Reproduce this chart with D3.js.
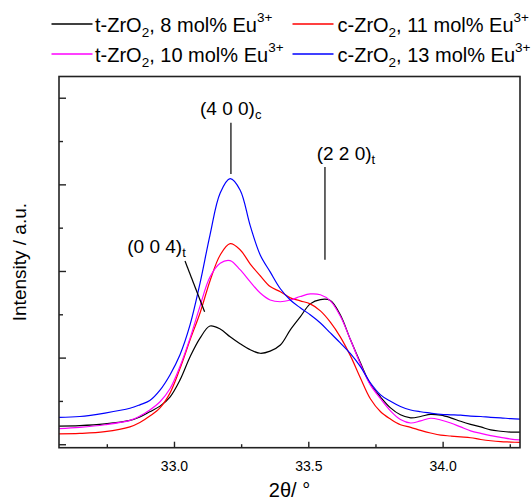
<!DOCTYPE html>
<html>
<head>
<meta charset="utf-8">
<script src="https://cdn.jsdelivr.net/npm/d3@7"></script>
<style>
  html, body { margin: 0; padding: 0; background: #fff; }
  svg { display: block; font-family: "Liberation Sans", Arial, Helvetica, sans-serif; }
</style>
</head>
<body>
<svg id="chart" width="531" height="501"></svg>
<script>
// ---- data ----
const twoTheta = [32.571,32.649,32.743,32.836,32.873,32.910,32.948,32.985,33.022,33.060,33.097,
  33.134,33.172,33.209,33.246,33.284,33.321,33.358,33.396,33.433,33.470,
  33.507,33.545,33.582,33.619,33.657,33.694,33.731,33.769,33.806,33.843,
  33.881,33.918,33.955,33.993,34.030,34.067,34.104,34.142,34.179,34.216,34.254,34.291];

const t8 = [0.42,0.43,0.47,0.55,0.63,0.75,0.88,1.09,1.48,2.02,2.45,
  2.73,2.66,2.48,2.32,2.18,2.10,2.15,2.29,2.64,2.94,
  3.24,3.34,3.32,2.99,2.41,1.88,1.39,1.09,0.84,0.68,
  0.61,0.64,0.69,0.67,0.61,0.53,0.46,0.40,0.33,0.30,0.28,0.28];

const c11 = [0.24,0.25,0.29,0.40,0.50,0.65,0.84,1.18,1.74,2.41,3.03,
  3.77,4.37,4.63,4.49,4.16,3.89,3.64,3.52,3.38,3.31,
  3.24,3.08,2.82,2.48,2.04,1.53,1.05,0.75,0.58,0.45,
  0.39,0.32,0.26,0.21,0.19,0.17,0.15,0.11,0.08,0.06,0.05,0.04];

const t10 = [0.36,0.39,0.45,0.55,0.65,0.79,0.98,1.28,1.79,2.45,3.19,
  3.86,4.18,4.24,4.03,3.75,3.49,3.33,3.29,3.33,3.41,
  3.47,3.45,3.31,2.96,2.41,1.85,1.37,1.05,0.77,0.57,
  0.49,0.54,0.60,0.56,0.49,0.40,0.31,0.25,0.20,0.16,0.12,0.10];

const c13 = [0.62,0.64,0.72,0.83,0.91,1.01,1.25,1.60,2.06,2.76,3.72,
  4.83,5.80,6.13,5.87,5.04,4.37,3.98,3.59,3.33,3.15,
  2.99,2.80,2.57,2.34,2.09,1.79,1.42,1.14,0.99,0.87,
  0.79,0.75,0.72,0.69,0.68,0.67,0.65,0.64,0.62,0.61,0.59,0.58];

const seriesNames = ["t8", "c11", "t10", "c13"];
const seriesValues = [t8, c11, t10, c13];
const seriesColors = ["#000000", "#ff0000", "#ff00ff", "#0000ff"];
const legendLabels = [
  {phase: "t-ZrO", rest: ", 8 mol% Eu"},
  {phase: "c-ZrO", rest: ", 11 mol% Eu"},
  {phase: "t-ZrO", rest: ", 10 mol% Eu"},
  {phase: "c-ZrO", rest: ", 13 mol% Eu"}
];

const xMajorTicks = [33.0, 33.5, 34.0];
const xMinorTicks = [32.75, 33.25, 33.75, 34.25];
const yMajorTicks = [0, 2, 4, 6, 8];
const yMinorTicks = [1, 3, 5, 7];

const annotations = [
  {main: "(4 0 0)", sub: "c", tx: 33.097, ty: 7.61, line: [[33.212, 7.42], [33.212, 6.24]]},
  {main: "(2 2 0)", sub: "t", tx: 33.531, ty: 6.57, line: [[33.562, 6.40], [33.562, 4.26]]},
  {main: "(0 0 4)", sub: "t", tx: 32.826, ty: 4.41, line: [[33.041, 4.23], [33.114, 3.06]]}
];

// ---- layout ----
const svg = d3.select("#chart");
const L = 59, R = 520, T = 76.5, B = 447.7;
const x = d3.scaleLinear().domain([32.572, 34.288]).range([L, R]);
const y = d3.scaleLinear().domain([-0.08, 8.49]).range([B, T]);
const FONT = 19;

svg.append("defs").append("clipPath").attr("id", "clip")
  .append("rect").attr("x", L).attr("y", T).attr("width", R - L).attr("height", B - T);

// curves
const line = d3.line().x(d => x(d[0])).y(d => y(d[1])).curve(d3.curveCatmullRom.alpha(0.5));
const plot = svg.append("g").attr("clip-path", "url(#clip)");
seriesValues.forEach((vals, i) => {
  plot.append("path")
    .datum(twoTheta.map((t, j) => [t, vals[j]]))
    .attr("fill", "none")
    .attr("stroke", seriesColors[i])
    .attr("stroke-width", 1.2)
    .attr("d", line);
});

// axes (ticks inward)
const frameColor = "#222";
const xAxisMajor = d3.axisBottom(x).tickValues(xMajorTicks).tickSize(-6).tickPadding(13).tickFormat(d3.format(".1f"));
const xAxisMinor = d3.axisBottom(x).tickValues(xMinorTicks).tickSize(-3.5).tickFormat("");
const yAxisMajor = d3.axisLeft(y).tickValues(yMajorTicks).tickSize(-7).tickFormat("");
const yAxisMinor = d3.axisLeft(y).tickValues(yMinorTicks).tickSize(-4).tickFormat("");

function styleAxis(g) {
  g.select(".domain").remove();
  g.selectAll(".tick line").attr("stroke", frameColor).attr("stroke-width", 1.4);
  g.selectAll(".tick text").attr("fill", "#000").attr("font-size", 14).attr("font-family", null);
}
svg.append("g").attr("transform", `translate(0,${B})`).call(xAxisMajor).call(styleAxis);
svg.append("g").attr("transform", `translate(0,${B})`).call(xAxisMinor).call(styleAxis);
svg.append("g").attr("transform", `translate(${L},0)`).call(yAxisMajor).call(styleAxis);
svg.append("g").attr("transform", `translate(${L},0)`).call(yAxisMinor).call(styleAxis);

// frame
svg.append("rect").attr("x", L).attr("y", T).attr("width", R - L).attr("height", B - T)
  .attr("fill", "none").attr("stroke", frameColor).attr("stroke-width", 1.6);

// axis titles
svg.append("text").attr("x", (L + R) / 2).attr("y", 497).attr("text-anchor", "middle")
  .attr("font-size", 20).text("2θ/ °");

svg.append("text").attr("transform", `translate(26,${(T + B) / 2}) rotate(-90)`)
  .attr("text-anchor", "middle").attr("font-size", FONT).text("Intensity / a.u.");

// annotations
annotations.forEach(a => {
  const tx = svg.append("text").attr("x", x(a.tx)).attr("y", y(a.ty)).attr("font-size", FONT);
  tx.append("tspan").text(a.main);
  tx.append("tspan").attr("font-size", 13).attr("dy", 4).text(a.sub);
  svg.append("line")
    .attr("x1", x(a.line[0][0])).attr("y1", y(a.line[0][1]))
    .attr("x2", x(a.line[1][0])).attr("y2", y(a.line[1][1]))
    .attr("stroke", "#000").attr("stroke-width", 1.2);
});

// legend (2 x 2)
const legPos = [
  {lx: 51.5, tx: 95, ly: 24, by: 31.5},
  {lx: 292.5, tx: 337.5, ly: 24, by: 31.5},
  {lx: 51.5, tx: 95, ly: 54, by: 61.5},
  {lx: 292.5, tx: 337.5, ly: 54, by: 61.5}
];
legendLabels.forEach((lab, i) => {
  const p = legPos[i];
  svg.append("line").attr("x1", p.lx).attr("x2", p.lx + 41).attr("y1", p.ly).attr("y2", p.ly)
    .attr("stroke", seriesColors[i]).attr("stroke-width", 1.3);
  const t = svg.append("text").attr("x", p.tx).attr("y", p.by).attr("font-size", 20);
  t.append("tspan").text(lab.phase);
  t.append("tspan").attr("font-size", 13.5).attr("dy", 5).text("2");
  t.append("tspan").attr("dy", -5).text(lab.rest);
  t.append("tspan").attr("font-size", 13.5).attr("dy", -10).text("3+");
});
</script>
</body>
</html>
